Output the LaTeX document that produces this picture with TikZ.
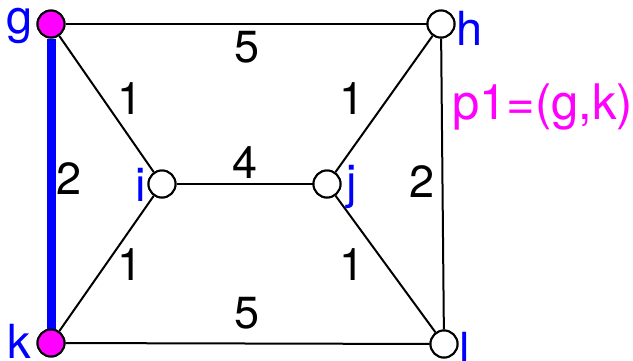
\documentclass[tikz,border=0pt]{standalone}
\usepackage{fontspec}
\setmainfont{TeX Gyre Heros}
\definecolor{hitmag}{RGB}{255,0,255}
\definecolor{selblue}{RGB}{0,0,255}
\begin{document}
\begin{tikzpicture}[x=1pt,y=-1pt,
		vtx/.style={circle,draw=black,line width=2pt,fill=white,
			minimum size=27pt,inner sep=0pt},
		hit/.style={vtx,fill=hitmag},
		edg/.style={draw=black,line width=2pt},
		sel/.style={draw=selblue,line width=9pt},
		wt/.style={font=\fontsize{45}{50}\selectfont,inner sep=0pt},
		vl/.style={font=\fontsize{47}{50}\selectfont,text=selblue,
			anchor=base,inner sep=0pt}]
	\useasboundingbox (0,0) rectangle (633,360);

	%%%%%%%%%%%%%%%%  vertices  %%%%%%%%%%%%%%%%
	\node[hit] (g) at (51,24) {};
	\node[vtx] (h) at (441,24) {};
	\node[vtx] (i) at (162,184) {};
	\node[vtx] (j) at (327,184) {};
	\node[hit] (k) at (51,343) {};
	\node[vtx] (l) at (444,344) {};

	%%%%%%%%%%%%%%%%  edges  %%%%%%%%%%%%%%%%
	\draw[sel] (g) -- (k);
	\draw[edg] (g) -- (h);
	\draw[edg] (g) -- (i);
	\draw[edg] (h) -- (j);
	\draw[edg] (h) -- (l);
	\draw[edg] (i) -- (j);
	\draw[edg] (i) -- (k);
	\draw[edg] (j) -- (l);
	\draw[edg] (k) -- (l);
	% redraw the vertices over the edge ends
	\node[hit] at (g) {};  \node[hit] at (k) {};
	\node[vtx] at (h) {};  \node[vtx] at (i) {};
	\node[vtx] at (j) {};  \node[vtx] at (l) {};

	%%%%%%%%%%%%%%%%  weights  %%%%%%%%%%%%%%%%
	\node[wt] (w-gh) at (247,47) {5};
	\node[wt] (w-kl) at (247,313) {5};
	\node[wt] (w-gk) at (69,179) {2};
	\node[wt] (w-hl) at (422,182) {2};
	\node[wt] (w-ij) at (245,163) {4};
	\node[wt] (w-gi) at (130,99) {1};
	\node[wt] (w-hj) at (352,99) {1};
	\node[wt] (w-ik) at (130,265) {1};
	\node[wt] (w-jl) at (352,265) {1};

	%%%%%%%%%%%%%%%%  vertex names  %%%%%%%%%%%%%%%%
	\node[vl] (n-g) at (20,33) {g};
	\node[vl] (n-h) at (470,45) {h};
	\node[vl] (n-i) at (141,201) {i};
	\node[vl] (n-j) at (352,198) {j};
	\node[vl] (n-k) at (19,358) {k};
	\node[vl] (n-l) at (465,366) {l};
	\node[vl,anchor=base west,text=hitmag,font=\fontsize{49}{52}\selectfont]
		(p1) at (452,119) {p1=(g,k)};
\end{tikzpicture}
\end{document}
